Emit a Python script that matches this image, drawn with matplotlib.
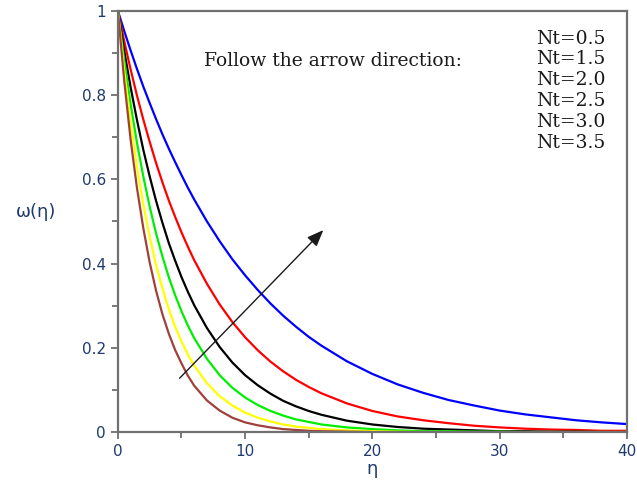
import matplotlib
matplotlib.use("Agg")
import matplotlib.pyplot as plt
from matplotlib.ticker import MultipleLocator, FuncFormatter

# eta grid and profiles
eta = [0, 0.5, 1, 1.5, 2, 2.5, 3, 3.5, 4, 4.5, 5, 5.5, 6, 7, 8, 9, 10, 11, 12,
       13, 14, 15, 16, 18, 20, 22, 24, 26, 28, 30, 32, 34, 36, 38, 40]
nt_blue = [1, 0.952, 0.906, 0.862, 0.820, 0.781, 0.743, 0.707, 0.673, 0.641,
           0.610, 0.580, 0.552, 0.500, 0.453, 0.410, 0.372, 0.337, 0.305,
           0.276, 0.250, 0.226, 0.205, 0.168, 0.138, 0.113, 0.093, 0.076,
           0.063, 0.051, 0.042, 0.035, 0.028, 0.023, 0.019]
nt_red = [1, 0.928, 0.861, 0.799, 0.742, 0.689, 0.639, 0.593, 0.550, 0.511,
          0.474, 0.440, 0.408, 0.352, 0.303, 0.261, 0.225, 0.194, 0.167,
          0.144, 0.124, 0.107, 0.092, 0.068, 0.050, 0.037, 0.028, 0.021,
          0.015, 0.011, 0.008, 0.006, 0.005, 0.003, 0.003]
nt_black = [1, 0.905, 0.819, 0.741, 0.670, 0.607, 0.549, 0.497, 0.449, 0.407,
            0.368, 0.333, 0.301, 0.247, 0.202, 0.165, 0.135, 0.111, 0.091,
            0.074, 0.061, 0.050, 0.041, 0.027, 0.018, 0.012, 0.008, 0.006,
            0.004, 0.002, 0.002, 0.001, 0.001, 0.0, 0.0]
nt_green = [1, 0.882, 0.779, 0.687, 0.607, 0.535, 0.472, 0.417, 0.368, 0.325,
            0.287, 0.253, 0.223, 0.174, 0.135, 0.105, 0.082, 0.064, 0.050,
            0.039, 0.030, 0.024, 0.018, 0.011, 0.007, 0.004, 0.002, 0.002,
            0.001, 0.001, 0.0, 0.0, 0.0, 0.0, 0.0]
nt_yellow = [1, 0.857, 0.735, 0.630, 0.540, 0.463, 0.397, 0.341, 0.292, 0.250,
             0.215, 0.184, 0.158, 0.116, 0.085, 0.063, 0.046, 0.034, 0.025,
             0.018, 0.013, 0.010, 0.007, 0.004, 0.002, 0.001, 0.0, 0.0,
             0.0, 0.0, 0.0, 0.0, 0.0, 0.0, 0.0]
nt_brown = [1, 0.834, 0.695, 0.580, 0.484, 0.403, 0.336, 0.280, 0.234, 0.195,
            0.163, 0.134, 0.110, 0.075, 0.051, 0.034, 0.023, 0.016, 0.011,
            0.007, 0.005, 0.003, 0.002, 0.001, 0.0, 0.0, 0.0, 0.0,
            0.0, 0.0, 0.0, 0.0, 0.0, 0.0, 0.0]

series = [nt_blue, nt_red, nt_black, nt_green, nt_yellow, nt_brown]
colors = ["#0000ff", "#ff0000", "#000000", "#00ee00", "#ffff00", "#a0403a"]
nt_labels = ["Nt=0.5", "Nt=1.5", "Nt=2.0", "Nt=2.5", "Nt=3.0", "Nt=3.5"]

fig = plt.figure(figsize=(6.37, 4.86), dpi=100)
ax = fig.add_axes([0.185, 0.111, 0.799, 0.867])

for ys, c in zip(series, colors):
    ax.plot(eta, ys, color=c, linewidth=1.6)

ax.set_xlim(0, 40)
ax.set_ylim(0, 1)
ax.xaxis.set_major_locator(MultipleLocator(10))
ax.xaxis.set_minor_locator(MultipleLocator(5))
ax.yaxis.set_major_locator(MultipleLocator(0.2))
ax.yaxis.set_minor_locator(MultipleLocator(0.1))


def ytick_fmt(v, pos):
    v = round(v, 3)
    if v == 0 or v == 1:
        return str(int(v))
    return f"{v:.1f}"


ax.yaxis.set_major_formatter(FuncFormatter(ytick_fmt))

spine_col = "#707070"
for s in ax.spines.values():
    s.set_color(spine_col)
    s.set_linewidth(1.6)
ax.tick_params(which="both", direction="out", color=spine_col, width=1.3,
               labelcolor="#1f3a6e", labelsize=11)
ax.tick_params(which="major", length=5)
ax.tick_params(which="minor", length=4)

ax.set_xlabel("η", fontsize=13, color="#1f3a6e", labelpad=1)
ax.set_ylabel("ω(η)", fontsize=13, color="#1f3a6e", rotation=0)
ax.yaxis.set_label_coords(-0.16, 0.5)

ax.text(0.17, 0.88, "Follow the arrow direction:", transform=ax.transAxes,
        family="DejaVu Serif", fontsize=13.5, color="#1a1a1a", va="center")
for i, lab in enumerate(nt_labels):
    ax.text(0.822, 0.934 - i * 0.0497, lab, transform=ax.transAxes,
            family="DejaVu Serif", fontsize=13.5, color="#1a1a1a", va="center")

ax.annotate("", xy=(16.3, 0.484), xytext=(4.7, 0.123),
            arrowprops=dict(arrowstyle="-|>,head_length=1.0,head_width=0.4",
                            color="#1a1a1a", lw=1.0))

fig.savefig("out.png", dpi=100)
